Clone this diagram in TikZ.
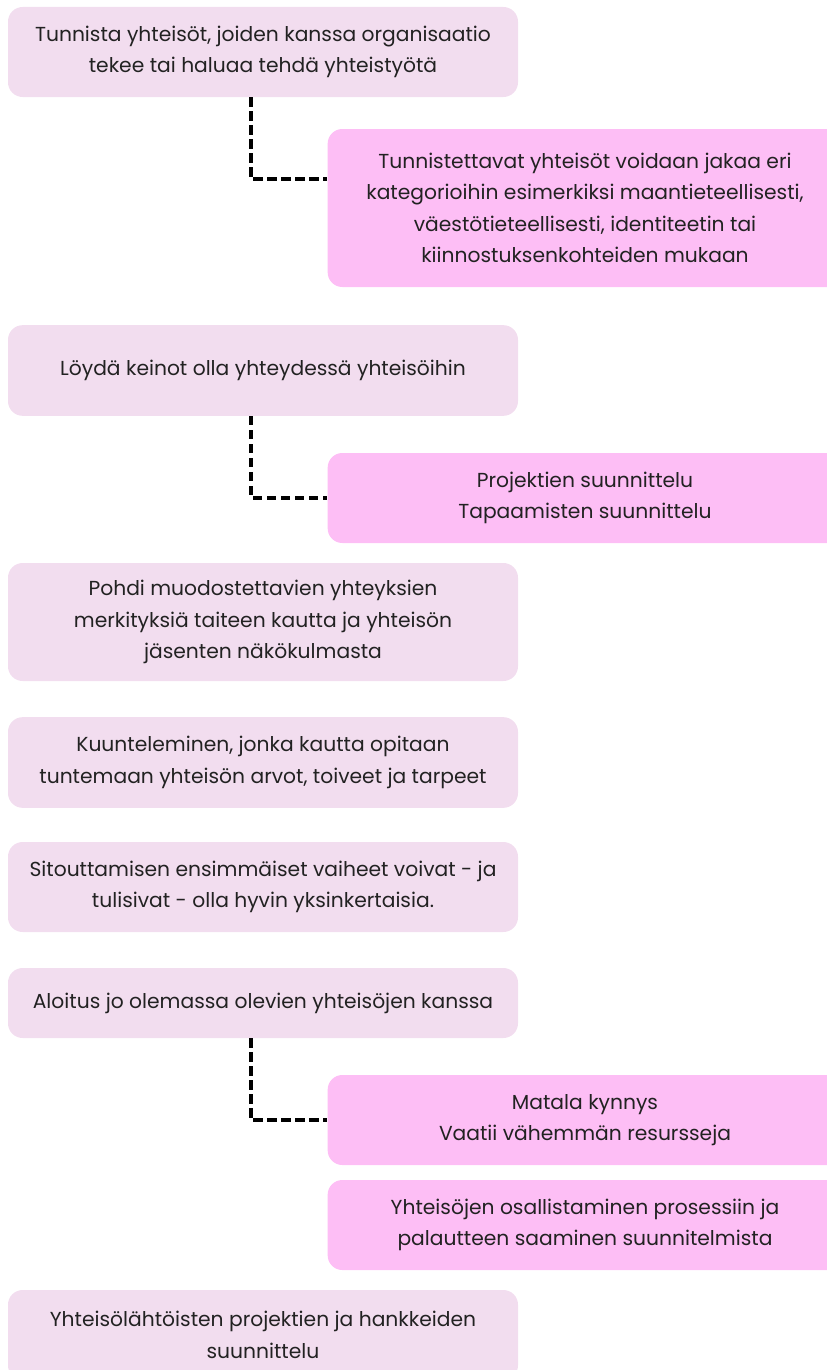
\documentclass[tikz,border=0pt]{standalone}
\usepackage{fontspec}
\setmainfont{Poppins}
\definecolor{lilac}{HTML}{F2DDEF}
\definecolor{pinkbox}{HTML}{FDBEF5}
\definecolor{ink}{HTML}{222222}
\begin{document}
\begin{tikzpicture}[x=0.75pt,y=-0.75pt,
  leftbox/.style={fill=lilac, rounded corners=11pt, minimum width=382.5pt, align=center, text=ink, font=\fontsize{15.2}{23.6}\selectfont},
  rightbox/.style={fill=pinkbox, rounded corners=11pt, minimum width=386pt, align=center, text=ink, font=\fontsize{15.2}{23.6}\selectfont},
  link/.style={line width=2.7pt, dash pattern=on 7pt off 3.5pt}]
\useasboundingbox (0,0) rectangle (827,1370);
\clip (0,0) rectangle (827,1370);
\node[leftbox, minimum height=67.5pt] (b1) at (263,52){Tunnista yhteisöt, joiden kanssa organisaatio\\tekee tai haluaa tehdä yhteistyötä};
\node[rightbox, minimum height=118.5pt] (b2) at (585,208){Tunnistettavat yhteisöt voidaan jakaa eri\\kategorioihin esimerkiksi maantieteellisesti,\\väestötieteellisesti, identiteetin tai\\kiinnostuksenkohteiden mukaan};
\draw[link](b1.south -| 251,0) |- ([yshift=21.75pt]b2.west);
\node[leftbox, minimum height=68pt] (b3) at (263,370.5){Löydä keinot olla yhteydessä yhteisöihin};
\node[rightbox, minimum height=67.5pt] (b4) at (585,498){Projektien suunnittelu\\Tapaamisten suunnittelu};
\draw[link](b3.south -| 251,0) |- (b4.west);
\node[leftbox, minimum height=88.5pt] (b5) at (263,622){Pohdi muodostettavien yhteyksien\\merkityksiä taiteen kautta ja yhteisön\\jäsenten näkökulmasta};
\node[leftbox, minimum height=68pt] (b6) at (263,762.5){Kuunteleminen, jonka kautta opitaan\\tuntemaan yhteisön arvot, toiveet ja tarpeet};
\node[leftbox, minimum height=67.5pt] (b7) at (263,887){Sitouttamisen ensimmäiset vaiheet voivat - ja\\tulisivat - olla hyvin yksinkertaisia.};
\node[leftbox, minimum height=52.5pt] (b8) at (263,1003){Aloitus jo olemassa olevien yhteisöjen kanssa};
\node[rightbox, minimum height=67.5pt] (b9) at (585,1120){Matala kynnys\\Vaatii vähemmän resursseja};
\draw[link](b8.south -| 251,0) |- (b9.west);
\node[rightbox, minimum height=67.5pt] (b10) at (585,1225){Yhteisöjen osallistaminen prosessiin ja\\palautteen saaminen suunnitelmista};
\node[leftbox, minimum height=67.5pt] (b11) at (263,1335){Yhteisölähtöisten projektien ja hankkeiden\\suunnittelu};
\end{tikzpicture}
\end{document}
